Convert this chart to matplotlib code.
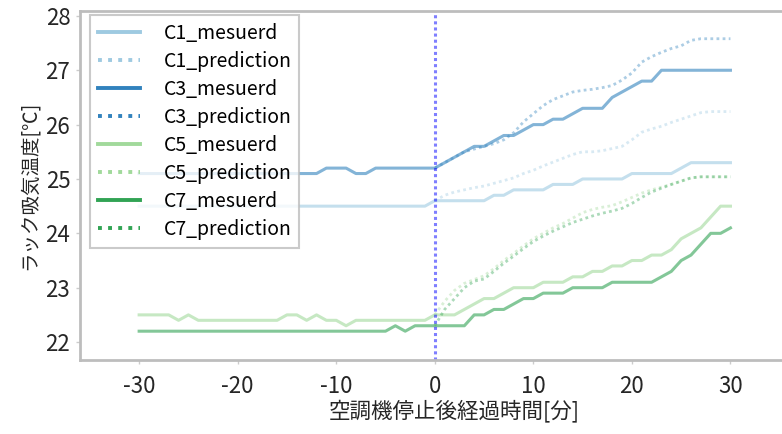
import numpy as np
import matplotlib.pyplot as plt
from matplotlib.lines import Line2D

plt.rcParams['font.family'] = ['Noto Sans CJK JP', 'DejaVu Sans']
plt.rcParams['axes.unicode_minus'] = False

# 経過時間 [分]
t_all = np.arange(-30, 31)
t_pred = np.arange(0, 31)

# 実測値 (-30..30分)
c1_mes = [24.5] * 30 + [24.6, 24.6, 24.6, 24.6, 24.6, 24.6, 24.7, 24.7, 24.8, 24.8, 24.8,
                        24.8, 24.9, 24.9, 24.9, 25.0, 25.0, 25.0, 25.0, 25.0, 25.1,
                        25.1, 25.1, 25.1, 25.1, 25.2, 25.3, 25.3, 25.3, 25.3, 25.3]
c3_mes = [25.1] * 19 + [25.2, 25.2, 25.2, 25.1, 25.1, 25.2, 25.2, 25.2, 25.2, 25.2, 25.2] + \
         [25.2, 25.3, 25.4, 25.5, 25.6, 25.6, 25.7, 25.8, 25.8, 25.9, 26.0,
          26.0, 26.1, 26.1, 26.2, 26.3, 26.3, 26.3, 26.5, 26.6, 26.7,
          26.8, 26.8, 27.0, 27.0, 27.0, 27.0, 27.0, 27.0, 27.0, 27.0]
c5_mes = [22.5, 22.5, 22.5, 22.5, 22.4, 22.5, 22.4, 22.4, 22.4, 22.4,
          22.4, 22.4, 22.4, 22.4, 22.4, 22.5, 22.5, 22.4, 22.5, 22.4,
          22.4, 22.3, 22.4, 22.4, 22.4, 22.4, 22.4, 22.4, 22.4, 22.4] + \
         [22.5, 22.5, 22.5, 22.6, 22.7, 22.8, 22.8, 22.9, 23.0, 23.0, 23.0,
          23.1, 23.1, 23.1, 23.2, 23.2, 23.3, 23.3, 23.4, 23.4, 23.5,
          23.5, 23.6, 23.6, 23.7, 23.9, 24.0, 24.1, 24.3, 24.5, 24.5]
c7_mes = [22.2] * 26 + [22.3, 22.2, 22.3, 22.3] + \
         [22.3, 22.3, 22.3, 22.3, 22.5, 22.5, 22.6, 22.6, 22.7, 22.8, 22.8,
          22.9, 22.9, 22.9, 23.0, 23.0, 23.0, 23.0, 23.1, 23.1, 23.1,
          23.1, 23.1, 23.2, 23.3, 23.5, 23.6, 23.8, 24.0, 24.0, 24.1]

# 予測値 (0..30分)
c1_pred = [24.6, 24.7, 24.76, 24.8, 24.84, 24.87, 24.92, 24.97, 25.02, 25.1, 25.16,
           25.24, 25.31, 25.38, 25.45, 25.5, 25.5, 25.52, 25.56, 25.6, 25.72,
           25.86, 25.92, 25.97, 26.04, 26.1, 26.16, 26.22, 26.24, 26.24, 26.24]
c3_pred = [25.2, 25.3, 25.4, 25.5, 25.55, 25.6, 25.65, 25.72, 25.85, 26.05, 26.2,
           26.35, 26.46, 26.53, 26.6, 26.63, 26.65, 26.68, 26.72, 26.82, 26.95,
           27.15, 27.25, 27.33, 27.4, 27.45, 27.55, 27.58, 27.58, 27.58, 27.58]
c5_pred = [22.5, 22.75, 22.95, 23.08, 23.15, 23.22, 23.35, 23.5, 23.63, 23.77, 23.9,
           24.0, 24.1, 24.18, 24.28, 24.38, 24.44, 24.48, 24.51, 24.58, 24.66,
           24.74, 24.8, 24.85, 24.9, 24.96, 25.02, 25.04, 25.04, 25.04, 25.04]
c7_pred = [22.3, 22.6, 22.8, 23.0, 23.12, 23.16, 23.3, 23.45, 23.58, 23.72, 23.85,
           23.95, 24.04, 24.12, 24.2, 24.26, 24.32, 24.37, 24.41, 24.46, 24.55,
           24.66, 24.76, 24.83, 24.9, 24.96, 25.02, 25.04, 25.04, 25.04, 25.04]

names = ['C1', 'C3', 'C5', 'C7']
colors = ['#9ecae1', '#3182bd', '#a1d99b', '#31a354']
measured = [c1_mes, c3_mes, c5_mes, c7_mes]
predicted = [c1_pred, c3_pred, c5_pred, c7_pred]

fig = plt.figure(figsize=(7.82, 4.34), dpi=100)
ax = fig.add_axes([80 / 782, 74 / 434, 749 / 782, 349 / 434])

handles = []
for name, col, mes, pred in zip(names, colors, measured, predicted):
    ax.plot(t_all, mes, color=col, lw=2.2, alpha=0.6)
    ax.plot(t_pred, pred, color=col, lw=2.0, ls=(0, (1, 1.2)), alpha=0.4)
    handles.append(Line2D([], [], color=col, lw=2.8, label=name + '_mesuerd'))
    handles.append(Line2D([], [], color=col, lw=2.8, ls=(0, (1, 1.6)),
                          label=name + '_prediction'))

# 空調機停止時刻
ax.axvline(0, color='blue', lw=2.2, ls=(0, (1, 1)), alpha=0.5)

ax.set_xlim(-36, 40)
ax.set_ylim(21.67, 28.09)
ax.set_xticks([-30, -20, -10, 0, 10, 20, 30])
ax.set_yticks([22, 23, 24, 25, 26, 27, 28])

for s in ['left', 'bottom', 'top', 'right']:
    ax.spines[s].set_color('#bdbdbd')
    ax.spines[s].set_linewidth(2)
ax.tick_params(axis='both', length=3, width=1, color='#cccccc',
               labelsize=16, labelcolor='#262626')
ax.tick_params(axis='x', pad=8)
ax.tick_params(axis='y', pad=4)

ax.set_xlabel('空調機停止後経過時間[分]', fontsize=15.5, color='#262626', labelpad=1)
ax.set_ylabel('ラック吸気温度[℃]', fontsize=14, color='#262626', labelpad=4)

leg = ax.legend(handles=handles, loc='upper left', bbox_to_anchor=(0.013, 0.988),
                fontsize=14, frameon=True, fancybox=False, handlelength=2.2,
                labelspacing=0.36, borderpad=0.4, handletextpad=1.2,
                borderaxespad=0.0)
leg.get_frame().set_edgecolor('#bdbdbd')
leg.get_frame().set_linewidth(1.5)

fig.savefig('out.png', dpi=100)
